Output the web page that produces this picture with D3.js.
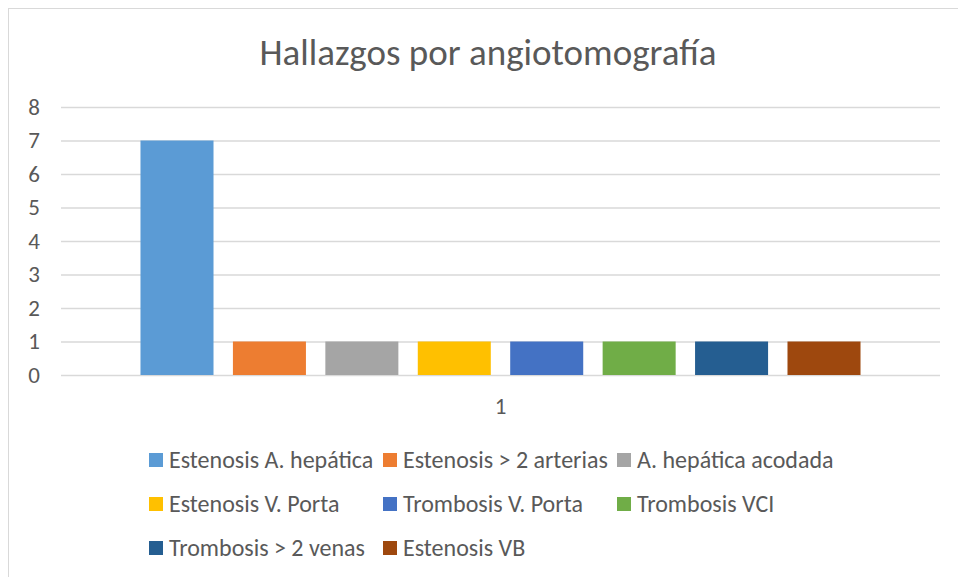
<!DOCTYPE html>
<html>
<head>
<meta charset="utf-8">
<script src="https://cdn.jsdelivr.net/npm/d3@7"></script>
<style>
  body { margin: 0; background: #fff; }
  text { font-family: Carlito, Calibri, "Liberation Sans Narrow", "Open Sans", sans-serif; fill: #595959; }
</style>
</head>
<body>
<svg id="chart"></svg>
<script>
const categories = ['1'];
const seriesNames = ['Estenosis A. hepática', 'Estenosis > 2 arterias', 'A. hepática acodada',
  'Estenosis V. Porta', 'Trombosis V. Porta', 'Trombosis VCI', 'Trombosis > 2 venas', 'Estenosis VB'];
const seriesValues = [7, 1, 1, 1, 1, 1, 1, 1];
const seriesColors = ['#5b9bd5', '#ed7d31', '#a5a5a5', '#ffc000', '#4472c4', '#70ad47', '#255e91', '#9e480e'];
const yTicks = [0, 1, 2, 3, 4, 5, 6, 7, 8];

const width = 958, height = 577;
const margin = {top: 107, right: 18, bottom: 202, left: 61};
const fontStack = 'Carlito, Calibri, "Liberation Sans Narrow", "Open Sans", sans-serif';

const svg = d3.select('#chart').attr('width', width).attr('height', height);

// outer chart border
svg.append('rect')
  .attr('x', 8.5).attr('y', 8.5)
  .attr('width', width + 10).attr('height', height + 10)
  .attr('fill', 'none').attr('stroke', '#d9d9d9');

svg.append('text')
  .attr('x', 488).attr('y', 65)
  .attr('text-anchor', 'middle')
  .style('font-size', '37px')
  .text('Hallazgos por angiotomografía');

const x = d3.scaleBand()
  .domain(categories)
  .range([margin.left, width - margin.right]);

const xs = d3.scaleBand()
  .domain(seriesNames)
  .range([0, x.bandwidth()])
  .paddingInner(0.21)
  .paddingOuter(0.86);

const y = d3.scaleLinear()
  .domain([0, 8])
  .range([height - margin.bottom, margin.top]);

// gridlines
svg.append('g')
  .selectAll('line')
  .data(yTicks)
  .enter()
  .append('line')
  .attr('x1', margin.left).attr('x2', width - margin.right)
  .attr('y1', d => y(d) + 0.5).attr('y2', d => y(d) + 0.5)
  .attr('stroke', '#d9d9d9').attr('stroke-width', 1.5);

// y axis labels
const yAxis = svg.append('g')
  .attr('transform', `translate(${margin.left - 27},0)`)
  .call(d3.axisLeft(y).tickValues(yTicks).tickSize(0).tickPadding(0));
yAxis.select('.domain').remove();
yAxis.selectAll('text')
  .attr('text-anchor', 'middle')
  .style('font-size', '23px')
  .style('font-family', fontStack)
  .attr('fill', '#595959');

// bars
const data = seriesNames.map((s, i) => ({series: s, value: seriesValues[i], color: seriesColors[i]}));
svg.append('g')
  .selectAll('rect')
  .data(data)
  .enter()
  .append('rect')
  .attr('x', d => x('1') + xs(d.series))
  .attr('y', d => y(d.value))
  .attr('width', xs.bandwidth())
  .attr('height', d => y(0) - y(d.value))
  .attr('fill', d => d.color);

// x axis label
const xAxis = svg.append('g')
  .attr('transform', `translate(0,${y(0) + 23})`)
  .call(d3.axisBottom(x).tickSize(0).tickPadding(0));
xAxis.select('.domain').remove();
xAxis.selectAll('text')
  .style('font-size', '23px')
  .style('font-family', fontStack)
  .attr('fill', '#595959');

// legend
const legendCols = [149, 383, 617];
const legendRows = [460, 504, 548];
const legend = svg.append('g')
  .selectAll('g')
  .data(data)
  .enter()
  .append('g')
  .attr('transform', (d, i) => `translate(${legendCols[i % 3]},${legendRows[Math.floor(i / 3)]})`);
legend.append('rect')
  .attr('x', 0).attr('y', -7)
  .attr('width', 14).attr('height', 14)
  .attr('fill', d => d.color);
legend.append('text')
  .attr('x', 20).attr('y', 8)
  .style('font-size', '24px')
  .text(d => d.series);
</script>
</body>
</html>
